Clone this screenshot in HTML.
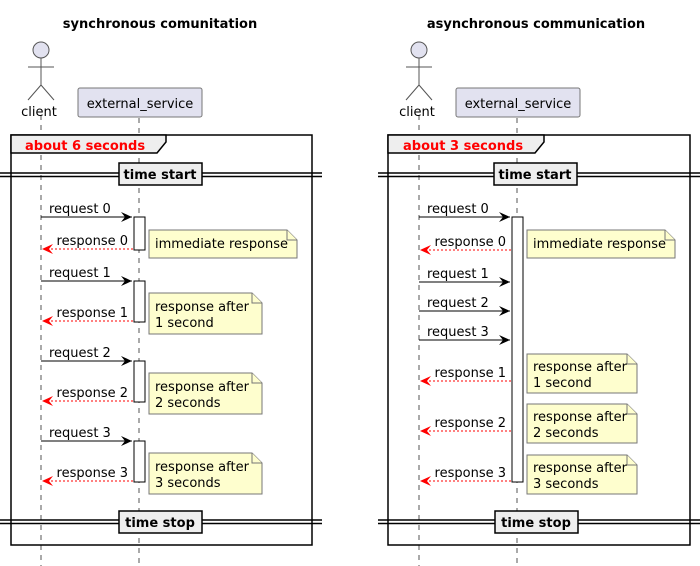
<!DOCTYPE html>
<html><head><meta charset="utf-8"><style>
html,body{margin:0;padding:0;background:#fff;}
svg{display:block;font-family:"DejaVu Sans","Liberation Sans",sans-serif;}
.t{font-size:13px;fill:#000}
.b{font-weight:bold}
.ll{stroke:#555;stroke-width:1;stroke-dasharray:5,5}
.req{stroke:#000;stroke-width:1}
.resp{stroke:#f00;stroke-width:1;stroke-dasharray:2,2}
.note{fill:#fefece;stroke:#777;stroke-width:1}
.act{fill:#fff;stroke:#000;stroke-width:1}
</style></head><body>
<svg width="700" height="566" viewBox="0 0 700 566" xmlns="http://www.w3.org/2000/svg">
<defs>
<g id="actor"><circle cx="0" cy="0" r="8" fill="#e2e2f0" stroke="#555"/><path d="M0 8V35M-13 17H13M0 35L-13 50M0 35L13 50" stroke="#555" fill="none"/></g>
</defs>

<!-- LEFT -->
<text x="160" y="28" text-anchor="middle" class="t b" font-size="14">synchronous comunitation</text>
<line x1="41" y1="115" x2="41" y2="566" class="ll"/>
<line x1="139" y1="118" x2="139" y2="566" class="ll"/>
<use href="#actor" x="41" y="50"/>
<text x="39" y="116" text-anchor="middle" class="t" font-size="14">client</text>
<rect x="78" y="88" width="124" height="29" rx="2" fill="#e2e2f0" stroke="#777"/>
<text x="140" y="108" text-anchor="middle" class="t" font-size="14">external_service</text>
<rect x="11" y="135" width="301" height="410" fill="none" stroke="#000" stroke-width="1.5"/>
<path d="M11 135H166V142L157 153H11Z" fill="#eee" stroke="#000" stroke-width="1.5"/>
<text x="25" y="150" class="t b" fill="#f00" style="fill:#f00">about 6 seconds</text>
<path d="M0 173H322M0 176.5H322" stroke="#000" stroke-width="1.5"/>
<rect x="119" y="163" width="83" height="22" fill="#eee" stroke="#000" stroke-width="1.5"/>
<text x="160" y="179" text-anchor="middle" class="t b">time start</text>
<path d="M0 520H322M0 523.5H322" stroke="#000" stroke-width="1.5"/>
<rect x="119" y="511" width="83" height="22" fill="#eee" stroke="#000" stroke-width="1.5"/>
<text x="160" y="527" text-anchor="middle" class="t b">time stop</text>

<g>
<rect x="134" y="217" width="11" height="33" class="act"/>
<rect x="134" y="281" width="11" height="41" class="act"/>
<rect x="134" y="361" width="11" height="41" class="act"/>
<rect x="134" y="441" width="11" height="41" class="act"/>
</g>
<g fill="none">
<line x1="41" y1="217" x2="132" y2="217" class="req"/><path d="M121 212L132 217L121 222L125 217Z" fill="#000"/>
<line x1="41" y1="281" x2="132" y2="281" class="req"/><path d="M121 276L132 281L121 286L125 281Z" fill="#000"/>
<line x1="41" y1="361" x2="132" y2="361" class="req"/><path d="M121 356L132 361L121 366L125 361Z" fill="#000"/>
<line x1="41" y1="441" x2="132" y2="441" class="req"/><path d="M121 436L132 441L121 446L125 441Z" fill="#000"/>
<line x1="43" y1="249" x2="134" y2="249" class="resp"/><path d="M53 244L42 249L53 254L49 249Z" fill="#f00"/>
<line x1="43" y1="321" x2="134" y2="321" class="resp"/><path d="M53 316L42 321L53 326L49 321Z" fill="#f00"/>
<line x1="43" y1="401" x2="134" y2="401" class="resp"/><path d="M53 396L42 401L53 406L49 401Z" fill="#f00"/>
<line x1="43" y1="481" x2="134" y2="481" class="resp"/><path d="M53 476L42 481L53 486L49 481Z" fill="#f00"/>
</g>
<text x="49" y="213" class="t">request 0</text>
<text x="128" y="245" text-anchor="end" class="t">response 0</text>
<text x="49" y="277" class="t">request 1</text>
<text x="128" y="317" text-anchor="end" class="t">response 1</text>
<text x="49" y="357" class="t">request 2</text>
<text x="128" y="397" text-anchor="end" class="t">response 2</text>
<text x="49" y="437" class="t">request 3</text>
<text x="128" y="477" text-anchor="end" class="t">response 3</text>

<path d="M149 230H287L297 240V258H149Z" class="note"/><path d="M287 230V240H297" class="note"/>
<text x="155" y="248" class="t">immediate response</text>
<path d="M149 293H252L262 303V334H149Z" class="note"/><path d="M252 293V303H262" class="note"/>
<text x="155" y="311" class="t">response after</text><text x="155" y="327" class="t">1 second</text>
<path d="M149 373H252L262 383V414H149Z" class="note"/><path d="M252 373V383H262" class="note"/>
<text x="155" y="391" class="t">response after</text><text x="155" y="407" class="t">2 seconds</text>
<path d="M149 453H252L262 463V494H149Z" class="note"/><path d="M252 453V463H262" class="note"/>
<text x="155" y="471" class="t">response after</text><text x="155" y="487" class="t">3 seconds</text>

<!-- RIGHT -->
<text x="536" y="28" text-anchor="middle" class="t b" font-size="14">asynchronous communication</text>
<line x1="419" y1="115" x2="419" y2="566" class="ll"/>
<line x1="517" y1="118" x2="517" y2="566" class="ll"/>
<use href="#actor" x="419" y="50"/>
<text x="417" y="116" text-anchor="middle" class="t" font-size="14">client</text>
<rect x="456" y="88" width="124" height="29" rx="2" fill="#e2e2f0" stroke="#777"/>
<text x="518" y="108" text-anchor="middle" class="t" font-size="14">external_service</text>
<rect x="388" y="135" width="302" height="410" fill="none" stroke="#000" stroke-width="1.5"/>
<path d="M388 135H544V142L535 153H388Z" fill="#eee" stroke="#000" stroke-width="1.5"/>
<text x="403" y="150" class="t b" style="fill:#f00">about 3 seconds</text>
<path d="M378 173H700M378 176.5H700" stroke="#000" stroke-width="1.5"/>
<rect x="494" y="163" width="83" height="22" fill="#eee" stroke="#000" stroke-width="1.5"/>
<text x="535" y="179" text-anchor="middle" class="t b">time start</text>
<path d="M378 520H700M378 523.5H700" stroke="#000" stroke-width="1.5"/>
<rect x="495" y="511" width="83" height="22" fill="#eee" stroke="#000" stroke-width="1.5"/>
<text x="536" y="527" text-anchor="middle" class="t b">time stop</text>

<rect x="512" y="217" width="11" height="265" class="act"/>
<g fill="none">
<line x1="419" y1="217" x2="510" y2="217" class="req"/><path d="M499 212L510 217L499 222L503 217Z" fill="#000"/>
<line x1="419" y1="282" x2="510" y2="282" class="req"/><path d="M499 277L510 282L499 287L503 282Z" fill="#000"/>
<line x1="419" y1="311" x2="510" y2="311" class="req"/><path d="M499 306L510 311L499 316L503 311Z" fill="#000"/>
<line x1="419" y1="340" x2="510" y2="340" class="req"/><path d="M499 335L510 340L499 345L503 340Z" fill="#000"/>
<line x1="421" y1="250" x2="512" y2="250" class="resp"/><path d="M431 245L420 250L431 255L427 250Z" fill="#f00"/>
<line x1="421" y1="381" x2="512" y2="381" class="resp"/><path d="M431 376L420 381L431 386L427 381Z" fill="#f00"/>
<line x1="421" y1="431" x2="512" y2="431" class="resp"/><path d="M431 426L420 431L431 436L427 431Z" fill="#f00"/>
<line x1="421" y1="481" x2="512" y2="481" class="resp"/><path d="M431 476L420 481L431 486L427 481Z" fill="#f00"/>
</g>
<text x="427" y="213" class="t">request 0</text>
<text x="506" y="246" text-anchor="end" class="t">response 0</text>
<text x="427" y="278" class="t">request 1</text>
<text x="427" y="307" class="t">request 2</text>
<text x="427" y="336" class="t">request 3</text>
<text x="506" y="377" text-anchor="end" class="t">response 1</text>
<text x="506" y="427" text-anchor="end" class="t">response 2</text>
<text x="506" y="477" text-anchor="end" class="t">response 3</text>

<path d="M527 230H665L675 240V258H527Z" class="note"/><path d="M665 230V240H675" class="note"/>
<text x="533" y="248" class="t">immediate response</text>
<path d="M527 354H627L637 364V393H527Z" class="note"/><path d="M627 354V364H637" class="note"/>
<text x="533" y="371" class="t">response after</text><text x="533" y="387" class="t">1 second</text>
<path d="M527 404H627L637 414V443H527Z" class="note"/><path d="M627 404V414H637" class="note"/>
<text x="533" y="421" class="t">response after</text><text x="533" y="437" class="t">2 seconds</text>
<path d="M527 455H627L637 465V494H527Z" class="note"/><path d="M627 455V465H637" class="note"/>
<text x="533" y="472" class="t">response after</text><text x="533" y="488" class="t">3 seconds</text>
</svg>
</body></html>
